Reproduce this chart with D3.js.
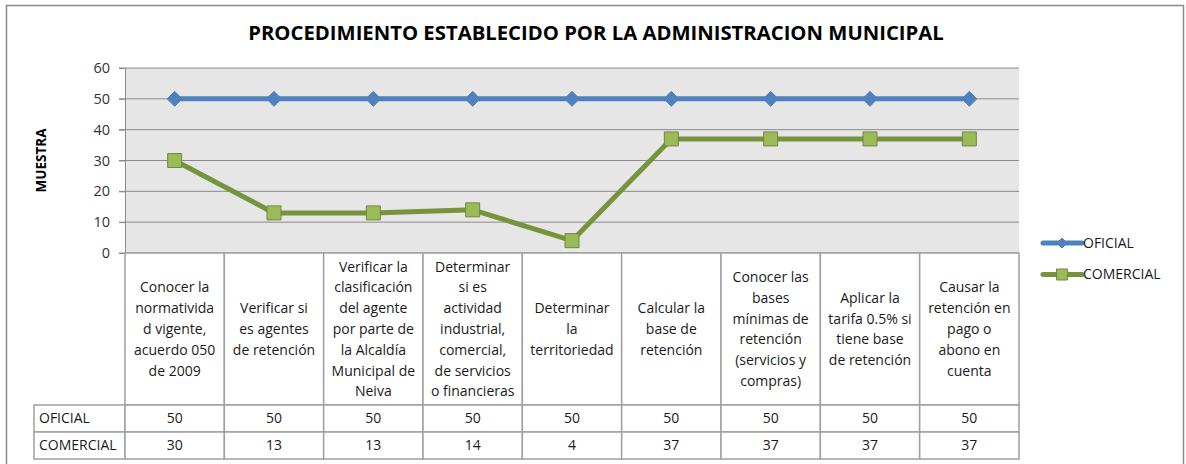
<!DOCTYPE html>
<meta charset="utf-8">
<style>
body { margin: 0; padding: 0; background: #fff; }
svg { display: block; font-family: "Open Sans", sans-serif; }
</style>
<body>
<svg id="chart" width="1186" height="464"></svg>
<script src="https://cdn.jsdelivr.net/npm/d3@7"></script>
<script>

var title = "PROCEDIMIENTO ESTABLECIDO POR LA ADMINISTRACION MUNICIPAL";
var yLabel = "MUESTRA";

// category labels, wrapped as in the original
var categories = [
  ["Conocer la", "normativida", "d vigente,", "acuerdo 050", "de 2009"],
  ["Verificar si", "es agentes", "de retención"],
  ["Verificar la", "clasificación", "del agente", "por parte de", "la Alcaldía", "Municipal de", "Neiva"],
  ["Determinar", "si es", "actividad", "industrial,", "comercial,", "de servicios", "o financieras"],
  ["Determinar", "la", "territoriedad"],
  ["Calcular la", "base de", "retención"],
  ["Conocer las", "bases", "mínimas de", "retención", "(servicios y", "compras)"],
  ["Aplicar la", "tarifa 0.5% si", "tiene base", "de retención"],
  ["Causar la", "retención en", "pago o", "abono en", "cuenta"]
];

var oficial   = [50, 50, 50, 50, 50, 50, 50, 50, 50];
var comercial = [30, 13, 13, 14, 4, 37, 37, 37, 37];

var yTicks = [0, 10, 20, 30, 40, 50, 60];

var series = [
  { name: "OFICIAL", values: oficial, line: "#4f81bd", fill: "#4f81bd", stroke: "#4f81bd", shape: "diamond" },
  { name: "COMERCIAL", values: comercial, line: "#77933c", fill: "#9bbb59", stroke: "#71893f", shape: "square" }
];

var svg = d3.select("#chart");

// outer frame
svg.append("rect")
  .attr("x", 6.5).attr("y", 5.5)
  .attr("width", 1177).attr("height", 470)
  .attr("fill", "#fff")
  .attr("stroke", "#8c8c8c")
  .attr("stroke-width", 1.5);

var plot = { left: 125, right: 1019, top: 68, bottom: 253 };

var x = d3.scaleBand()
  .domain(d3.range(categories.length))
  .range([plot.left, plot.right]);

var y = d3.scaleLinear()
  .domain([0, 60])
  .range([plot.bottom, plot.top]);

// title
svg.append("text")
  .attr("x", 596).attr("y", 40)
  .attr("text-anchor", "middle")
  .attr("font-size", 20.3)
  .attr("font-weight", "bold")
  .attr("fill", "#000")
  .text(title);

// plot background
svg.append("rect")
  .attr("x", plot.left).attr("y", plot.top)
  .attr("width", plot.right - plot.left)
  .attr("height", plot.bottom - plot.top)
  .attr("fill", "#e6e6e6");

// grid
svg.append("g")
  .selectAll("line")
  .data(yTicks)
  .join("line")
  .attr("x1", plot.left - 6).attr("x2", plot.right)
  .attr("y1", d => y(d)).attr("y2", d => y(d))
  .attr("stroke", "#8a8a8a")
  .attr("stroke-width", 1);

// y axis
var yAxis = svg.append("g")
  .attr("transform", "translate(" + plot.left + ",0)")
  .call(d3.axisLeft(y).tickValues(yTicks).tickSize(6).tickPadding(9));
yAxis.select(".domain").attr("stroke", "#8a8a8a");
yAxis.selectAll(".tick line").attr("stroke", "#8a8a8a");
yAxis.selectAll(".tick text")
  .attr("font-size", 14.5)
  .attr("font-family", "Open Sans, sans-serif")
  .attr("fill", "#333");

svg.append("text")
  .attr("transform", "translate(46," + ((plot.top + plot.bottom) / 2) + ") rotate(-90)")
  .attr("text-anchor", "middle")
  .attr("font-size", 13.5)
  .attr("font-weight", "bold")
  .attr("fill", "#000")
  .text(yLabel);

// data table
var rowTop = 405, rowH = 27, nameLeft = 34;
var gridCol = "#a0a0a0";
var fs = 14;
var table = svg.append("g");

// header cells (category labels)
table.selectAll("rect.cat")
  .data(categories)
  .join("rect")
  .attr("class", "cat")
  .attr("x", (d, i) => x(i)).attr("y", plot.bottom)
  .attr("width", x.bandwidth()).attr("height", rowTop - plot.bottom)
  .attr("fill", "#fff")
  .attr("stroke", gridCol)
  .attr("stroke-width", 1.5);

var lineH = 20.8;
table.selectAll("text.cat")
  .data(categories)
  .join("text")
  .attr("class", "cat")
  .attr("text-anchor", "middle")
  .attr("font-size", fs)
  .attr("fill", "#1a1a1a")
  .each(function(d, i) {
    var cy = (plot.bottom + rowTop) / 2 - (d.length - 1) * lineH / 2;
    d3.select(this).selectAll("tspan")
      .data(d)
      .join("tspan")
      .attr("x", x(i) + x.bandwidth() / 2)
      .attr("y", (t, j) => cy + j * lineH)
      .attr("dy", "0.35em")
      .text(t => t);
  });

// value rows
series.forEach(function(s, r) {
  var ry = rowTop + r * rowH;
  table.append("rect")
    .attr("x", nameLeft).attr("y", ry)
    .attr("width", plot.left - nameLeft).attr("height", rowH)
    .attr("fill", "#fff").attr("stroke", gridCol).attr("stroke-width", 1.5);
  table.append("text")
    .attr("x", nameLeft + 5).attr("y", ry + rowH / 2)
    .attr("dy", "0.35em")
    .attr("font-size", fs)
    .attr("fill", "#1a1a1a")
    .text(s.name);
  s.values.forEach(function(v, i) {
    table.append("rect")
      .attr("x", x(i)).attr("y", ry)
      .attr("width", x.bandwidth()).attr("height", rowH)
      .attr("fill", "#fff").attr("stroke", gridCol).attr("stroke-width", 1.5);
    table.append("text")
      .attr("x", x(i) + x.bandwidth() / 2).attr("y", ry + rowH / 2)
      .attr("dy", "0.35em")
      .attr("text-anchor", "middle")
      .attr("font-size", fs)
      .attr("fill", "#1a1a1a")
      .text(v);
  });
});

// lines and markers
var line = d3.line()
  .x((d, i) => x(i) + x.bandwidth() / 2)
  .y(d => y(d));

var diamond = "M0,-7.5L7.5,0L0,7.5L-7.5,0Z";
var square = "M-7,-7H7V7H-7Z";

series.forEach(function(s) {
  svg.append("path")
    .datum(s.values)
    .attr("d", line)
    .attr("fill", "none")
    .attr("stroke", s.line)
    .attr("stroke-width", 5)
    .attr("stroke-linejoin", "round");
  svg.append("g")
    .selectAll("path")
    .data(s.values)
    .join("path")
    .attr("transform", (d, i) => "translate(" + (x(i) + x.bandwidth() / 2) + "," + y(d) + ")")
    .attr("d", s.shape === "diamond" ? diamond : square)
    .attr("fill", s.fill)
    .attr("stroke", s.stroke)
    .attr("stroke-width", 1);
});

// legend
var legend = svg.append("g");
series.forEach(function(s, i) {
  var ly = 243 + i * 31.5;
  legend.append("line")
    .attr("x1", 1043).attr("x2", 1082)
    .attr("y1", ly).attr("y2", ly)
    .attr("stroke", s.line)
    .attr("stroke-width", 5)
    .attr("stroke-linecap", "round");
  legend.append("path")
    .attr("transform", "translate(1062," + ly + ")")
    .attr("d", s.shape === "diamond" ? "M0,-5L5,0L0,5L-5,0Z" : "M-5.5,-5.5H5.5V5.5H-5.5Z")
    .attr("fill", s.fill)
    .attr("stroke", s.stroke);
  legend.append("text")
    .attr("x", 1083).attr("y", ly)
    .attr("dy", "0.35em")
    .attr("font-size", fs)
    .attr("fill", "#1a1a1a")
    .text(s.name);
});

</script>
</body>
